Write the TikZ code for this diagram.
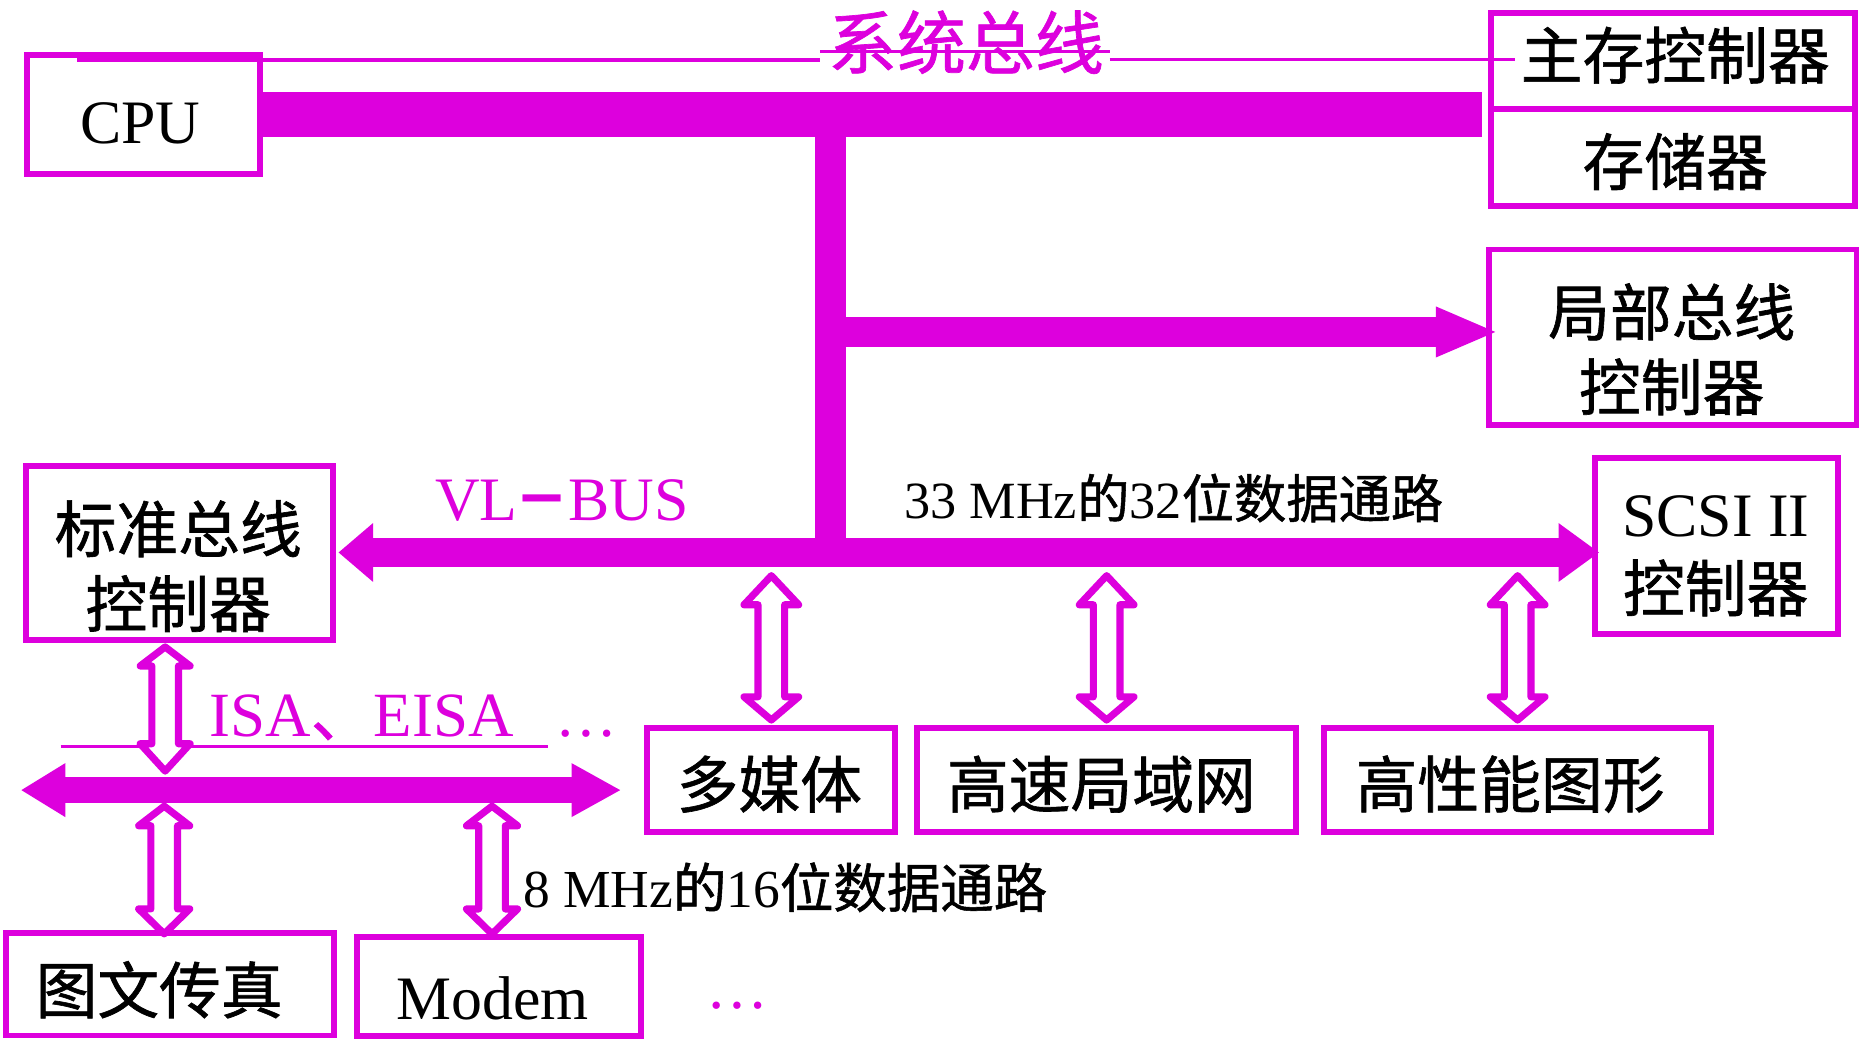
\documentclass[tikz,border=0pt]{standalone}
\usepackage{fontspec}
\setmainfont{Liberation Serif}
\newfontfamily\cjk{Noto Sans CJK SC}[FakeBold=1]
\usetikzlibrary{arrows.meta,calc}
\definecolor{mg}{RGB}{221,0,221}
\tikzset{
  box/.style={draw=mg,line width=5pt,inner sep=0pt,outer sep=2.5pt},
  cjktxt/.style={inner sep=0pt,align=center,font=\cjk\fontsize{52}{63}\selectfont,text=black},
  lattxt/.style={inner sep=0pt,align=center,font=\fontsize{52}{63}\selectfont,text=black},
  mglabel/.style={inner sep=0pt,text=mg},
  thinbus/.style={draw=mg,line width=3pt},
  hollow/.style={draw=mg,fill=white,line width=6pt,line join=round},
}
% hollow double arrow: #1 top tip, #2 bottom tip, #3 top head length, #4 bottom head length, #5 head half width
\newcommand\hdarrow[5]{%
  \draw[hollow] let \p1=(#1), \p2=(#2) in
    (\x1,\y1) -- (\x1+#5pt,\y1-#3pt) -- (\x1+11.2pt,\y1-#3pt) -- (\x1+11.2pt,\y2+#4pt)
    -- (\x1+#5pt,\y2+#4pt) -- (\x1,\y2) -- (\x1-#5pt,\y2+#4pt) -- (\x1-11.2pt,\y2+#4pt)
    -- (\x1-11.2pt,\y1-#3pt) -- (\x1-#5pt,\y1-#3pt) -- cycle;}
\begin{document}
\begin{tikzpicture}[x=1pt,y=-1pt]
\fill[white] (0,0) rectangle (1568,877);
\useasboundingbox (0,0) rectangle (1568,877);

% boxes
\node[box,minimum width=196pt,minimum height=100pt] (cpu) at (120.5,96.1) {};
\node[box,minimum width=306pt,minimum height=81pt] (mc) at (1408,51.5) {};
\node[box,minimum width=306pt,minimum height=81.5pt] (mem) at (1408,132.75) {};
\node[box,minimum width=309pt,minimum height=148pt] (lbc) at (1408,284) {};
\node[box,minimum width=258pt,minimum height=146.5pt] (sbc) at (151,465.75) {};
\node[box,minimum width=204pt,minimum height=148pt] (scsi) at (1444.7,459.5) {};
\node[box,minimum width=208.7pt,minimum height=88pt] (mm) at (649.2,656.5) {};
\node[box,minimum width=319pt,minimum height=88pt] (lan) at (931.4,656.5) {};
\node[box,minimum width=326pt,minimum height=88pt] (gfx) at (1277.3,656.5) {};
\node[box,minimum width=275.6pt,minimum height=86pt] (fax) at (143.2,828.5) {};
\node[box,minimum width=238.8pt,minimum height=83.3pt] (modem) at (420.1,829.9) {};

% system bus (thin line with label)
\coordinate (sysL) at (65,50.5);
\coordinate (sysR) at (1275,50);
\node[mglabel,font=\cjk\fontsize{58}{58}\selectfont] (syslbl) at (813,35.5) {系统总线};
\draw[thinbus] (sysL) -- (690,50.5);
\draw[thinbus] (934,50) -- (sysR);
\draw[thinbus] (690,43.5) -- (934,43.5);

% thick system bus
\draw[mg,line width=38pt] (cpu.east) -- ($(cpu.east -| mc.west)+(-5,0)$);
\coordinate (j1) at (699,96);
\coordinate (j2) at (699,465);
\draw[mg,line width=26.5pt] (j1) -- (j2);
\draw[mg,line width=25.8pt,-{Triangle[length=50pt,width=43pt,line width=0pt]}]
  (j1 |- 0,279.4) -- ($(lbc.west)+(7.5,-4.6)$);

% VL-BUS
\draw[mg,line width=25pt,{Triangle[length=29pt,width=49.6pt,line width=0pt]}-{Triangle[length=34pt,width=49.6pt,line width=0pt]}]
  ($(sbc.east)+(2.5,-0.75)$) -- ($(scsi.west)+(5.5,5.5)$);

% ISA bus
\draw[mg,line width=2.8pt] (51,628.5) -- (461,628.5);
\coordinate (isaL) at (18,665);
\coordinate (isaR) at (522,665);
\draw[mg,line width=22pt,{Triangle[length=37pt,width=45.5pt,line width=0pt]}-{Triangle[length=41pt,width=45.5pt,line width=0pt]}]
  (isaL) -- (isaR);

% hollow double arrows
\coordinate (vlb) at (0,484.5);
\coordinate (isab) at (0,678.5);
\hdarrow{mm.north|-vlb}{$(mm.north)+(0,-4)$}{24.5}{19.5}{23}
\hdarrow{lan.north|-vlb}{$(lan.north)+(0,-4)$}{24.5}{19.5}{23}
\hdarrow{gfx.north|-vlb}{$(gfx.north)+(0,-4)$}{24.5}{19.5}{23}
\hdarrow{$(sbc.south)+(-12,3)$}{$(sbc.south)+(-12,107.5)$}{16}{23}{21}
\hdarrow{$(fax.north|-isab)+(-5,0)$}{$(fax.north)+(-5,3)$}{16.5}{21}{21.5}
\hdarrow{$(modem.north|-isab)+(-6,0)$}{$(modem.north)+(-6,0.3)$}{16.5}{21}{21.5}

% box texts
\node[lattxt] (cput) at (118,104) {CPU};
\node[cjktxt] (mct) at (1410,46.5) {主存控制器};
\node[cjktxt] (memt) at (1410,136) {存储器};
\node[cjktxt] (lbct) at (1407,294) {局部总线\\控制器};
\node[cjktxt] (sbct) at (150,476.5) {标准总线\\控制器};
\node[cjktxt] (scsit) at (1444,468) {{\rmfamily SCSI II}\\控制器};
\node[cjktxt] (mmt) at (647.5,660) {多媒体};
\node[cjktxt] (lant) at (927,660) {高速局域网};
\node[cjktxt] (gfxt) at (1271,660) {高性能图形};
\node[cjktxt] (faxt) at (134,833) {图文传真};
\node[lattxt] (modemt) at (414.5,840) {Modem};

% labels
\node[mglabel,anchor=base west,font=\fontsize{52}{52}\selectfont] (vlbl) at (366,438) {VL\kern5pt\raisebox{-9pt}{\scalebox{1.2}[2.3]{–}}\kern7pt BUS};
\node[anchor=base west,inner sep=0pt,font=\fontsize{44}{44}\selectfont] (vlinfo) at (761,436) {33 MHz{\cjk 的}32{\cjk 位数据通路}};
\node[mglabel,anchor=base west,font=\fontsize{53}{53}\selectfont] (isalbl) at (176,620) {ISA{\cjk 、}EISA};
\node[mglabel,anchor=base west,font=\fontsize{52}{52}\selectfont] (dots1) at (467,620) {…};
\node[anchor=base west,inner sep=0pt,font=\fontsize{45}{45}\selectfont] (isainfo) at (440,764) {8 MHz{\cjk 的}16{\cjk 位数据通路}};
\node[mglabel,anchor=base west,font=\fontsize{52}{52}\selectfont] (dots2) at (594,849) {…};
\end{tikzpicture}
\end{document}
